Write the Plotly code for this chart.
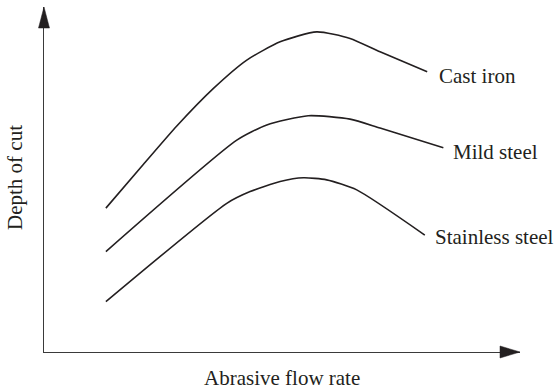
import plotly.graph_objects as go

# Data (arbitrary units)
cast_iron_x = [1.30, 2.09, 2.79, 3.56, 4.26, 4.96, 5.73, 6.43, 7.06, 8.05]
cast_iron_y = [4.17, 5.44, 6.55, 7.64, 8.46, 8.99, 9.28, 9.09, 8.70, 8.12]

mild_steel_x = [1.30, 4.05, 4.68, 5.55, 6.43, 7.06, 8.39]
mild_steel_y = [2.91, 6.14, 6.58, 6.85, 6.75, 6.49, 5.92]

stainless_x = [1.30, 3.84, 4.33, 4.96, 5.45, 5.94, 6.57, 8.00]
stainless_y = [1.46, 4.31, 4.65, 4.94, 5.05, 4.99, 4.70, 3.39]

series_names = ["Cast iron", "Mild steel", "Stainless steel"]
label_shift = [(10, -4), (8, -4), (8, -2)]

INK = "#231f20"
FONT = "Liberation Serif"

fig = go.Figure()
series = [(cast_iron_x, cast_iron_y), (mild_steel_x, mild_steel_y), (stainless_x, stainless_y)]
for (xs, ys), name, (dx, dy) in zip(series, series_names, label_shift):
    fig.add_trace(go.Scatter(x=xs, y=ys, mode="lines", name=name,
                             line=dict(color=INK, width=1.6, shape="spline", smoothing=0.6),
                             showlegend=False, hoverinfo="skip"))
    fig.add_annotation(x=xs[-1], y=ys[-1], xref="x", yref="y", text=name,
                       showarrow=False, xanchor="left", yanchor="middle",
                       xshift=dx, yshift=dy, font=dict(family=FONT, size=21, color=INK))

# axis titles
fig.add_annotation(x=0.5, y=-0.075, xref="paper", yref="paper", text="Abrasive flow rate",
                   showarrow=False, xanchor="center", yanchor="middle",
                   font=dict(family=FONT, size=21, color=INK))
fig.add_annotation(x=-0.0605, y=0.505, xref="paper", yref="paper", text="Depth of cut",
                   showarrow=False, textangle=-90, xanchor="center", yanchor="middle",
                   font=dict(family=FONT, size=21, color=INK))

# arrowheads
fig.add_shape(type="path", xref="paper", yref="paper",
              path="M 0 1 L -0.01155 0.939 L 0.01155 0.939 Z",
              fillcolor=INK, line=dict(color=INK, width=0.5))
fig.add_shape(type="path", xref="paper", yref="paper",
              path="M 1 0 L 0.958 0.0174 L 0.958 -0.0174 Z",
              fillcolor=INK, line=dict(color=INK, width=0.5))

axis_common = dict(range=[0, 10], showgrid=False, zeroline=False, showticklabels=False,
                   ticks="", showline=True, linecolor="#3a3a3a", linewidth=1.4)
fig.update_xaxes(**axis_common)
fig.update_yaxes(**axis_common)

fig.update_layout(width=555, height=392, margin=dict(l=44, r=35, t=7, b=40),
                  plot_bgcolor="white", paper_bgcolor="white")

fig.write_html("out.html", config={"displayModeBar": False, "staticPlot": True},
               post_script="document.body.style.margin='0px';document.body.style.overflow='hidden';")
